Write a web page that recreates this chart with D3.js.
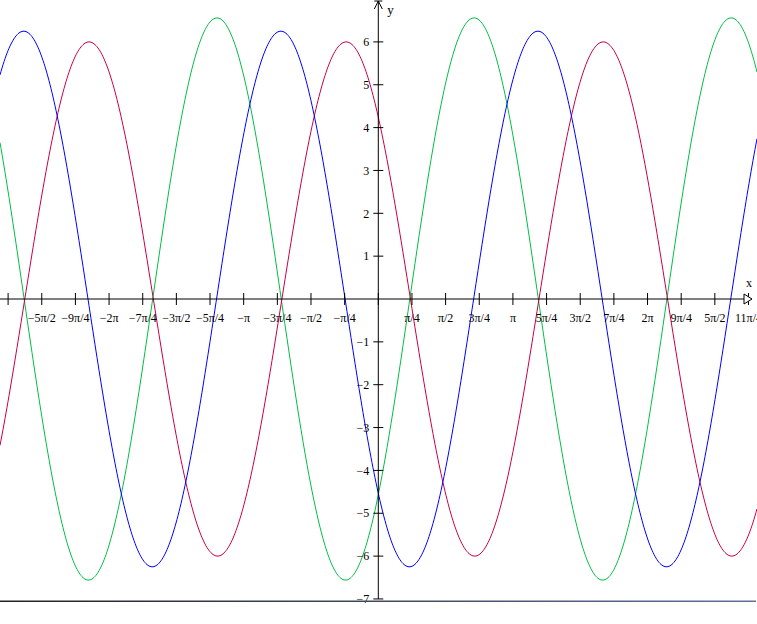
<!DOCTYPE html>
<html>
<head>
<meta charset="utf-8">
<script src="https://cdn.jsdelivr.net/npm/d3@7"></script>
<style>
  body { margin: 0; background: #fff; }
  svg { display: block; }
  .tick text { font-family: 'Liberation Serif', 'Times New Roman', serif; font-size: 12px; fill: #000; }
</style>
</head>
<body>
<div id="chart"></div>
<script>
// curve parameters: y = A * sin(2*PI/period * (x - x0))
const curveNames = ['green', 'red', 'blue'];
const amplitudes = [6.56, 6.0, 6.25];
const zeroUp = [0.735, 3.75, 2.225];   // x where each curve crosses 0 going up
const period = 6;
const curveColors = ['#00be46', '#c80046', '#0000ff'];

// axis ticks
const xTickSteps = d3.range(-11, 12);          // multiples of pi/4
const xTickLabels = ['', '−5π/2', '−9π/4', '−2π', '−7π/4', '−3π/2', '−5π/4', '−π', '−3π/4', '−π/2', '−π/4', '',
                     'π/4', 'π/2', '3π/4', 'π', '5π/4', '3π/2', '7π/4', '2π', '9π/4', '5π/2', '11π/4'];
const yTicks = [-7, -6, -5, -4, -3, -2, -1, 1, 2, 3, 4, 5, 6];

const width = 757, height = 624;
const unit = 42.85;
const ox = 378.3, oy = 299;

const svg = d3.select('#chart').append('svg')
    .attr('width', width)
    .attr('height', height);

const x = d3.scaleLinear().domain([-ox / unit, (width - ox) / unit]).range([0, width]);
const y = d3.scaleLinear().domain([-7, oy / unit]).range([oy + 7 * unit, 0]);

// curves
const samples = d3.range(0, width + 1, 1).map(px => x.invert(px));
curveNames.forEach((name, i) => {
    const line = d3.line()
        .x(d => x(d))
        .y(d => y(amplitudes[i] * Math.sin(2 * Math.PI / period * (d - zeroUp[i]))));
    svg.append('path')
        .datum(samples)
        .attr('class', 'curve ' + name)
        .attr('d', line)
        .attr('fill', 'none')
        .attr('stroke', curveColors[i])
        .attr('stroke-width', 1);
});

// x axis
const xAxis = svg.append('g');
xAxis.append('line')
    .attr('x1', 0).attr('x2', 752)
    .attr('y1', y(0)).attr('y2', y(0))
    .attr('stroke', '#000');
const xt = xAxis.selectAll('.tick')
    .data(xTickSteps)
    .join('g')
    .attr('class', 'tick')
    .attr('transform', d => 'translate(' + x(d * Math.PI / 4) + ',' + y(0) + ')');
xt.append('line').attr('y1', -6).attr('y2', 6).attr('stroke', '#000');
xt.append('text')
    .attr('y', 23)
    .attr('text-anchor', 'middle')
    .text((d, i) => xTickLabels[i]);
// hollow arrow head
xAxis.append('path')
    .attr('d', 'M744,' + (y(0) - 5) + 'L752,' + y(0) + 'L744,' + (y(0) + 5) + 'Z')
    .attr('fill', '#fff')
    .attr('stroke', '#000');
xAxis.append('text')
    .attr('x', 749).attr('y', y(0) - 12)
    .attr('text-anchor', 'middle')
    .style('font-family', "'Liberation Serif', serif")
    .style('font-size', '12px')
    .text('x');

// y axis
const yAxis = svg.append('g');
yAxis.append('line')
    .attr('x1', x(0)).attr('x2', x(0))
    .attr('y1', 1).attr('y2', y(-7))
    .attr('stroke', '#000');
const yt = yAxis.selectAll('.tick')
    .data(yTicks)
    .join('g')
    .attr('class', 'tick')
    .attr('transform', d => 'translate(' + x(0) + ',' + y(d) + ')');
yt.append('line').attr('x1', -5).attr('x2', 5).attr('stroke', '#000');
yt.append('text')
    .attr('x', -9)
    .attr('dy', '0.35em')
    .attr('text-anchor', 'end')
    .text(d => d < 0 ? '−' + (-d) : d);
yAxis.append('path')
    .attr('d', 'M' + (x(0) - 4) + ',9L' + x(0) + ',1L' + (x(0) + 4) + ',9')
    .attr('fill', 'none')
    .attr('stroke', '#000');
yAxis.append('line')
    .attr('x1', x(0) - 4).attr('x2', x(0) + 4)
    .attr('y1', 1).attr('y2', 1)
    .attr('stroke', '#000');
yAxis.append('text')
    .attr('x', x(0) + 9).attr('y', 14)
    .style('font-family', "'Liberation Serif', serif")
    .style('font-size', '13px')
    .text('y');

// bottom border
const grad = svg.append('defs').append('linearGradient').attr('id', 'border');
grad.append('stop').attr('offset', '0%').attr('stop-color', '#222');
grad.append('stop').attr('offset', '100%').attr('stop-color', '#60709a');
svg.append('rect')
    .attr('x', 0).attr('y', 600.5)
    .attr('width', 756).attr('height', 1.5)
    .attr('fill', 'url(#border)');
</script>
</body>
</html>
